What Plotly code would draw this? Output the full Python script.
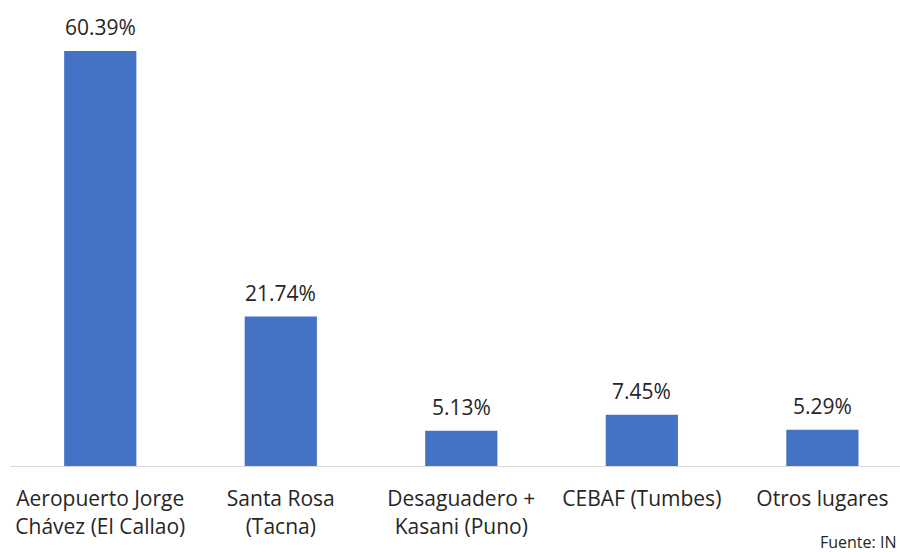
import plotly.graph_objects as go

categories = ["Aeropuerto Jorge<br>Chávez (El Callao)", "Santa Rosa<br>(Tacna)",
              "Desaguadero +<br>Kasani (Puno)", "CEBAF (Tumbes)", "Otros lugares"]
values = [60.39, 21.74, 5.13, 7.45, 5.29]
labels = ["60.39%", "21.74%", "5.13%", "7.45%", "5.29%"]

xs = list(range(len(categories)))
fig = go.Figure(go.Bar(
    x=xs, y=values,
    marker=dict(color="#4472C4", line=dict(width=0)),
    width=0.4,
))
for x, v, t in zip(xs, values, labels):
    fig.add_annotation(x=x, y=v, text=t, showarrow=False, yanchor="bottom", yshift=8,
                       font=dict(family="Open Sans", size=21, color="#262626"))
fig.add_annotation(text="Fuente: IN", x=1, y=0, xref="paper", yref="paper",
                   xanchor="right", yanchor="middle", yshift=-76, xshift=-2, showarrow=False,
                   font=dict(family="Open Sans", size=16, color="#262626"))
fig.update_layout(
    width=900, height=552,
    margin=dict(l=10, r=0, t=0, b=86),
    plot_bgcolor="white", paper_bgcolor="white",
    showlegend=False,
    font=dict(family="Open Sans", size=21, color="#262626"),
    xaxis=dict(tickmode="array", tickvals=xs, ticktext=categories,
               range=[-0.5, 4.43], showline=True, linecolor="#D9D9D9", linewidth=1,
               ticks="", showgrid=False, zeroline=False, ticklabelstandoff=14,
               tickfont=dict(family="Open Sans", size=21, color="#262626")),
    yaxis=dict(range=[0, 67.8], visible=False, showgrid=False, zeroline=False),
)
fig.write_html("out.html", config={"displayModeBar": False},
               post_script="document.body.style.margin='0';document.body.style.overflow='hidden';")
